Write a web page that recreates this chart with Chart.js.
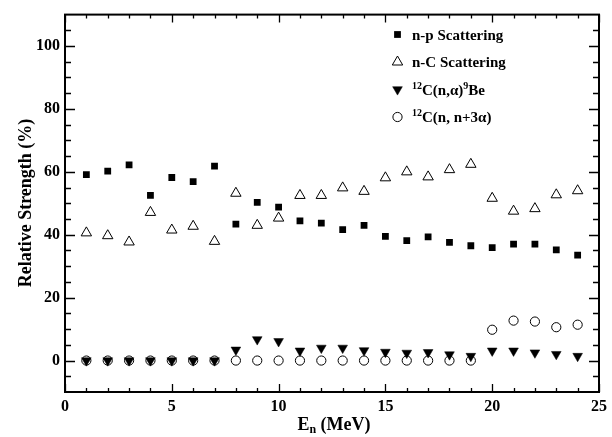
<!DOCTYPE html>
<html>
<head>
<meta charset="utf-8">
<script src="https://cdn.jsdelivr.net/npm/chart.js@4"></script>
<style>
html,body{margin:0;padding:0;background:#fff;}
#wrap{width:612px;height:437px;position:relative;}
</style>
</head>
<body>
<div id="wrap"><canvas id="c" width="612" height="437"></canvas></div>
<script>
const energies = [1,2,3,4,5,6,7,8,9,10,11,12,13,14,15,16,17,18,19,20,21,22,23,24];
const npScattering = [59.1,60.2,62.2,52.5,58.2,56.9,61.8,43.4,50.3,48.8,44.4,43.7,41.6,43.0,39.5,38.1,39.3,37.6,36.5,35.9,37.0,37.0,35.2,33.5];
const nCScattering = [40.6,39.7,37.7,47.1,41.5,42.7,37.9,53.2,43.0,45.3,52.5,52.5,54.9,53.8,58.1,60.0,58.4,60.7,62.4,51.6,47.5,48.3,52.7,54.0];
const nAlphaBe = [0,0,0,0,0,0,0,3.4,6.7,6.1,3.1,4.0,4.0,3.2,2.7,2.4,2.6,1.9,1.4,3.1,3.1,2.5,2.0,1.4];
const nN3Alpha = [0,0,0,0,0,0,0,0,0,0,0,0,0,0,0,0,0,0,0,9.8,12.7,12.4,10.6,11.4];
const xTicks = [0,5,10,15,20,25];
const yTicks = [0,20,40,60,80,100];
const xMinorTicks = Array.from({length:26},(_, i)=>i);
const yMinorTicks = [-5,0,5,10,15,20,25,30,35,40,45,50,55,60,65,70,75,80,85,90,95,100,105];
const seriesNames = ['n-p Scattering','n-C Scattering','12C(n,α)9Be','12C(n, n+3α)'];

const FONT = "'Liberation Serif','Times New Roman',serif";
const toPts = ys => energies.map((x,i)=>({x:x,y:ys[i]}));

const styles = [
  {pointStyle:'rect', radius:4.8, bg:'#000', border:'#000', bw:0, rot:0},
  {pointStyle:'triangle', radius:6, bg:'rgba(0,0,0,0)', border:'#000', bw:1, rot:0},
  {pointStyle:'triangle', radius:5.6, bg:'#000', border:'#000', bw:0.5, rot:180},
  {pointStyle:'circle', radius:4.6, bg:'rgba(0,0,0,0)', border:'#000', bw:1, rot:0}
];
const seriesData = [npScattering, nCScattering, nAlphaBe, nN3Alpha];

const datasets = seriesData.map((d,i)=>({
  label: seriesNames[i],
  data: toPts(d),
  showLine:false,
  pointStyle: styles[i].pointStyle,
  pointRadius: styles[i].radius,
  pointHoverRadius: styles[i].radius,
  pointBackgroundColor: styles[i].bg,
  pointBorderColor: styles[i].border,
  pointBorderWidth: styles[i].bw,
  pointRotation: styles[i].rot
}));

const framePlugin = {
  id:'frame',
  afterDraw(chart){
    const ctx = chart.ctx;
    const a = chart.chartArea;
    const xs = chart.scales.x, ys = chart.scales.y;
    ctx.save();
    ctx.strokeStyle = '#000';
    // ticks
    ctx.lineWidth = 1.3;
    ctx.beginPath();
    xMinorTicks.forEach(v=>{
      const px = Math.round(xs.getPixelForValue(v))+0.5;
      const len = xTicks.includes(v) ? 8 : 4;
      ctx.moveTo(px, a.bottom); ctx.lineTo(px, a.bottom-len);
      ctx.moveTo(px, a.top); ctx.lineTo(px, a.top+len);
    });
    yMinorTicks.forEach(v=>{
      const py = Math.round(ys.getPixelForValue(v))+0.5;
      const len = yTicks.includes(v) ? 10 : 6;
      ctx.moveTo(a.left, py); ctx.lineTo(a.left+len, py);
      ctx.moveTo(a.right, py); ctx.lineTo(a.right-len, py);
    });
    ctx.stroke();
    // frame
    ctx.lineWidth = 2;
    ctx.strokeRect(a.left, a.top, a.right-a.left, a.bottom-a.top);

    // axis titles
    ctx.fillStyle = '#000';
    ctx.textBaseline = 'alphabetic';
    // x title: E_n (MeV)
    const cx = (a.left+a.right)/2 + 2;
    const base = 430;
    ctx.font = 'bold 18px '+FONT;
    const wE = ctx.measureText('E').width;
    ctx.font = 'bold 12px '+FONT;
    const wn = ctx.measureText('n').width;
    ctx.font = 'bold 18px '+FONT;
    const wRest = ctx.measureText(' (MeV)').width;
    let x0 = cx - (wE+wn+wRest)/2;
    ctx.textAlign = 'left';
    ctx.fillText('E', x0, base);
    ctx.font = 'bold 12px '+FONT;
    ctx.fillText('n', x0+wE, base+3);
    ctx.font = 'bold 18px '+FONT;
    ctx.fillText(' (MeV)', x0+wE+wn, base);
    // y title
    ctx.save();
    ctx.translate(31, 203);
    ctx.rotate(-Math.PI/2);
    ctx.textAlign = 'center';
    ctx.font = 'bold 18px '+FONT;
    ctx.fillText('Relative Strength (%)', 0, 0);
    ctx.restore();

    // legend
    const rows = [34.5, 62, 89.5, 117];
    const mx = 397.5, tx = 412;
    rows.forEach((ry,i)=>{
      const st = styles[i];
      ctx.save();
      ctx.fillStyle = st.bg; ctx.strokeStyle = st.border; ctx.lineWidth = st.bw;
      Chart.helpers.drawPoint(ctx, {pointStyle:st.pointStyle, radius:st.radius, rotation:st.rot, borderWidth:st.bw}, mx, ry);
      ctx.restore();
    });
    const big = 'bold 15px '+FONT, small = 'bold 10px '+FONT;
    const drawRuns = (runs, x, y) => {
      runs.forEach(r=>{
        ctx.font = r.sup ? small : big;
        ctx.fillText(r.t, x, r.sup ? y-6 : y);
        x += ctx.measureText(r.t).width;
      });
    };
    ctx.textAlign = 'left';
    ctx.fillStyle = '#000';
    drawRuns([{t:'n-p Scattering'}], tx, rows[0]+5);
    drawRuns([{t:'n-C Scattering'}], tx, rows[1]+5);
    drawRuns([{t:'12',sup:true},{t:'C(n,α)'},{t:'9',sup:true},{t:'Be'}], tx, rows[2]+5);
    drawRuns([{t:'12',sup:true},{t:'C(n, n+3α)'}], tx, rows[3]+5);
    ctx.restore();
  }
};

new Chart(document.getElementById('c'), {
  type:'scatter',
  data:{datasets:datasets},
  options:{
    responsive:false,
    animation:false,
    events:[],
    layout:{padding:{left:0,right:10,top:10,bottom:0}},
    plugins:{legend:{display:false}, tooltip:{enabled:false}},
    scales:{
      x:{
        type:'linear', min:0, max:25,
        afterBuildTicks: s => { s.ticks = xTicks.map(v=>({value:v})); },
        afterFit: s => { s.height = 45; },
        grid:{display:false, drawTicks:false},
        border:{display:false},
        ticks:{color:'#000', padding:5, font:{family:FONT, size:16, weight:'bold'}, maxRotation:0, autoSkip:false}
      },
      y:{
        type:'linear', min:-10, max:110,
        afterBuildTicks: s => { s.ticks = yTicks.map(v=>({value:v})); },
        afterFit: s => { s.width = 65; },
        grid:{display:false, drawTicks:false},
        border:{display:false},
        ticks:{color:'#000', padding:5, font:{family:FONT, size:16, weight:'bold'}, autoSkip:false}
      }
    }
  },
  plugins:[framePlugin]
});
</script>
</body>
</html>
